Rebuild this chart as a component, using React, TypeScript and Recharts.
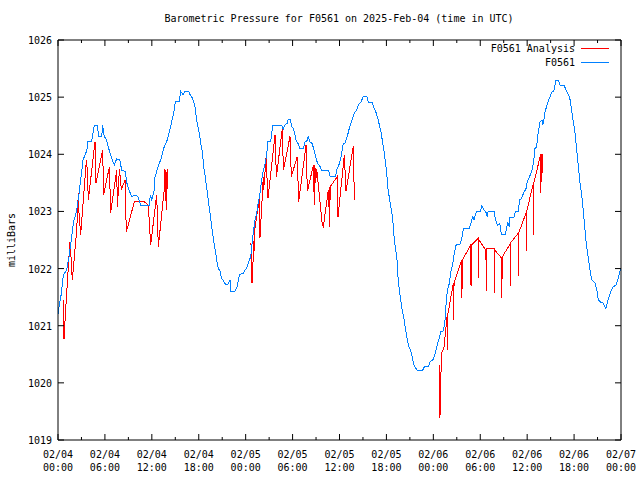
import React from 'react';
import { LineChart, Line, XAxis, YAxis } from 'recharts';

// hours since 02/04 00:00 UTC, pressure in mb
const pressureHours = [
  0, 0.15, 0.4, 0.68, 1.1, 1.4, 1.75, 1.96, 2.4, 2.7,
  2.94, 3.2, 3.7, 3.8, 4.3, 4.65, 5.07, 5.15, 5.6, 5.7,
  5.9, 6.2, 6.65, 6.95, 7.2, 7.5, 7.9, 8.15, 8.6, 8.8,
  9.1, 9.4, 9.85, 10.2, 10.5, 10.6, 11.7, 11.8, 12.0, 12.3,
  12.4, 12.8, 13.2, 13.5, 13.9, 14.2, 14.5, 14.9, 15.0, 15.5,
  15.7, 16.0, 16.2, 16.7, 16.9, 17.2, 17.5, 17.65, 17.8, 18.07,
  18.25, 18.5, 18.6, 18.8, 19.0, 19.22, 19.44, 19.66, 19.9, 20.1,
  20.3, 20.5, 20.7, 20.9, 21.1, 21.35, 21.6, 21.8, 22.0, 22.1,
  22.6, 22.9, 23.2, 23.7, 23.9, 24.1, 24.4, 24.65, 24.8, 25.0,
  25.2, 25.4, 25.6, 25.8, 26.05, 26.26, 26.5, 26.7, 26.8, 27.2,
  27.33, 27.5, 28.6, 28.8, 29.0, 29.3, 29.45, 29.7, 29.9, 30.1,
  30.3, 30.5, 30.7, 30.95, 31.4, 31.6, 31.8, 32.0, 32.2, 32.5,
  32.8, 33.0, 33.2, 33.5, 33.7, 34.6, 34.8, 35.5, 35.7, 36.0,
  36.2, 36.4, 36.5, 36.7, 36.9, 37.1, 37.3, 37.6, 37.9, 38.2,
  38.4, 38.75, 39.05, 39.5, 39.7, 40.2, 40.45, 40.7, 40.9, 41.05,
  41.3, 41.5, 41.7, 41.9, 42.05, 42.2, 42.45, 42.7, 42.9, 43.0,
  43.2, 43.4, 43.5, 43.7, 43.95, 44.2, 44.4, 44.6, 44.8, 45.0,
  45.2, 45.45, 45.65, 46.0, 46.6, 46.85, 47.4, 47.6, 48.0, 48.2,
  48.5, 48.8, 48.95, 49.3, 49.5, 49.6, 49.8, 50.05, 50.2, 50.5,
  50.6, 50.9, 51.4, 51.6, 51.85, 52.6, 52.8, 53.05, 53.2, 53.5,
  54.0, 54.2, 54.4, 54.7, 54.9, 55.0, 55.8, 55.9, 56.2, 56.5,
  56.7, 57.2, 57.4, 57.5, 57.7, 57.8, 58.3, 58.5, 58.9, 59.0,
  59.3, 59.5, 59.85, 60.0, 60.4, 60.6, 60.8, 61.0, 61.2, 61.4,
  61.65, 61.9, 62.0, 62.1, 62.3, 62.6, 62.9, 63.2, 63.4, 63.7,
  64.0, 64.2, 64.7, 65.0, 65.3, 65.5, 65.7, 65.9, 66.1, 66.3,
  66.55, 66.76, 67.0, 67.2, 67.4, 67.6, 67.8, 68.05, 68.26, 68.7,
  68.9, 69.1, 69.5, 69.7, 70.05, 70.4, 70.7, 71.0, 71.35, 71.65,
  71.9, 72.0,
];
const pressureMb = [
  1021.2, 1021.35, 1021.54, 1021.89, 1021.97, 1022.2, 1022.55, 1022.8, 1023.02, 1023.32,
  1023.6, 1023.9, 1024.07, 1024.22, 1024.22, 1024.51, 1024.51, 1024.32, 1024.32, 1024.51,
  1024.32, 1024.25, 1024.02, 1023.9, 1023.81, 1023.92, 1023.9, 1023.72, 1023.7, 1023.5,
  1023.37, 1023.26, 1023.29, 1023.26, 1023.15, 1023.11, 1023.11, 1023.29, 1023.2, 1023.37,
  1023.6, 1023.78, 1023.93, 1024.1, 1024.22, 1024.37, 1024.54, 1024.8, 1024.92, 1024.92,
  1025.1, 1025.04, 1025.1, 1025.1, 1025.04, 1024.98, 1024.86, 1024.69, 1024.54, 1024.37,
  1024.19, 1024.02, 1023.81, 1023.64, 1023.43, 1023.2, 1022.97, 1022.73, 1022.5, 1022.33,
  1022.15, 1022.0, 1021.97, 1021.83, 1021.8, 1021.74, 1021.71, 1021.74, 1021.8, 1021.6,
  1021.6, 1021.68, 1021.89, 1021.92, 1021.97, 1022.0, 1022.12, 1022.21, 1022.41, 1022.65,
  1022.85, 1022.97, 1023.14, 1023.29, 1023.55, 1023.72, 1023.84, 1023.99, 1024.22, 1024.22,
  1024.37, 1024.51, 1024.51, 1024.43, 1024.51, 1024.54, 1024.61, 1024.61, 1024.48, 1024.45,
  1024.34, 1024.22, 1024.19, 1024.1, 1024.1, 1024.22, 1024.22, 1024.31, 1024.22, 1024.19,
  1024.05, 1023.93, 1023.84, 1023.79, 1023.72, 1023.72, 1023.62, 1023.62, 1023.75, 1023.84,
  1023.96, 1024.13, 1024.19, 1024.19, 1024.28, 1024.37, 1024.48, 1024.6, 1024.72, 1024.78,
  1024.86, 1024.92, 1025.01, 1025.01, 1024.9, 1024.9, 1024.8, 1024.72, 1024.63, 1024.54,
  1024.4, 1024.22, 1024.05, 1023.84, 1023.64, 1023.4, 1023.17, 1022.97, 1022.73, 1022.5,
  1022.33, 1022.09, 1021.8, 1021.57, 1021.33, 1021.16, 1020.98, 1020.81, 1020.66, 1020.6,
  1020.52, 1020.34, 1020.28, 1020.21, 1020.21, 1020.28, 1020.29, 1020.37, 1020.41, 1020.5,
  1020.66, 1020.81, 1020.9, 1020.91, 1021.1, 1021.33, 1021.63, 1021.74, 1021.92, 1022.09,
  1022.21, 1022.41, 1022.43, 1022.5, 1022.7, 1022.7, 1022.79, 1022.91, 1022.85, 1023.0,
  1023.0, 1023.1, 1023.04, 1023.0, 1022.9, 1023.0, 1023.0, 1022.88, 1022.76, 1022.79,
  1022.6, 1022.6, 1022.73, 1022.81, 1022.73, 1022.9, 1022.9, 1023.0, 1023.0, 1023.2,
  1023.23, 1023.31, 1023.4, 1023.52, 1023.64, 1023.72, 1023.84, 1024.1, 1024.13, 1024.37,
  1024.57, 1024.6, 1024.51, 1024.57, 1024.75, 1024.89, 1025.0, 1025.1, 1025.1, 1025.3,
  1025.3, 1025.21, 1025.21, 1025.12, 1025.04, 1024.95, 1024.75, 1024.57, 1024.4, 1024.13,
  1023.78, 1023.49, 1023.26, 1022.97, 1022.67, 1022.38, 1022.21, 1021.97, 1021.8, 1021.74,
  1021.63, 1021.45, 1021.4, 1021.4, 1021.3, 1021.48, 1021.6, 1021.68, 1021.71, 1021.83,
  1021.97, 1022.0,
];

// analysis runs; null marks the gaps between the three runs
const analysisHours = [
  0.68, 0.77, 0.9, 1.24, 1.53, 1.66, 1.83, 2.39, 2.6, 2.69,
  2.9, 3.6, 3.67, 3.79, 3.88, 4.73, 4.86, 5.71, 5.84, 6.57,
  6.74, 7.5, 7.6, 7.85, 8.1, 8.57, 8.74, 9.76, 11.04, 11.55,
  11.7, 11.85, 12.62, 12.83, 13.6, 13.68, 13.85, 13.95, 14.0,
  19,
  24.68, 24.81, 25.07, 25.1, 25.2, 25.66, 25.75, 25.83, 26.26, 26.3,
  26.6, 26.86, 27.75, 27.93, 28.69, 28.82, 29.67, 29.84, 30.6, 30.78,
  31.72, 31.89, 32.66, 32.78, 32.85, 32.95, 33.08, 33.81, 33.93, 34.57,
  34.66, 34.72, 34.76, 34.8, 35.72, 35.81, 36.62, 36.83, 37.77, 37.9,
  43,
  48.8, 48.85, 48.9, 49.07, 49.37, 49.8, 49.82, 49.85, 50.56, 50.6,
  50.65, 51.63, 51.66, 51.7, 52.78, 52.82, 52.86, 53.76, 53.8, 53.84,
  54.73, 54.76, 54.8, 55.76, 55.79, 55.82, 56.74, 56.77, 56.8, 57.81,
  57.84, 57.88, 58.87, 58.9, 58.93, 59.85, 59.88, 59.92, 60.79, 60.82,
  60.86, 61.73, 61.76, 61.8, 61.94, 61.96,
];
const analysisMb = [
  1021.45, 1020.76, 1021.1, 1021.86, 1022.47, 1022.21, 1021.8, 1022.67, 1023.32, 1022.97,
  1022.59, 1023.84, 1023.9, 1023.55, 1023.2, 1024.22, 1023.49, 1024.07, 1023.29, 1023.78,
  1022.98, 1023.72, 1023.08, 1023.75, 1023.38, 1023.55, 1022.64, 1023.17, 1023.17, 1023.11,
  1022.76, 1022.41, 1023.29, 1022.38, 1023.4, 1023.75, 1023.02, 1023.75, 1023.4,
  null,
  1022.44, 1021.74, 1022.5, 1022.3, 1022.73, 1023.14, 1023.29, 1022.53, 1023.61, 1023.37,
  1023.93, 1023.23, 1024.34, 1023.61, 1024.45, 1023.72, 1024.31, 1023.61, 1023.96, 1023.17,
  1024.16, 1023.35, 1023.81, 1023.11, 1023.81, 1023.49, 1023.75, 1022.76, 1022.73, 1023.37,
  1023.08, 1023.43, 1022.73, 1023.43, 1023.61, 1022.91, 1023.99, 1023.35, 1024.15, 1023.2,
  null,
  1020.31, 1019.38, 1019.87, 1020.52, 1020.63, 1021.22, 1020.57, 1021.2, 1021.74, 1021.1,
  1021.75, 1022.15, 1021.48, 1022.15, 1022.41, 1021.69, 1022.41, 1022.53, 1021.83, 1022.5,
  1022.32, 1021.6, 1022.35, 1022.35, 1021.57, 1022.33, 1022.18, 1021.48, 1022.2, 1022.43,
  1021.69, 1022.45, 1022.62, 1021.87, 1022.63, 1022.97, 1022.3, 1022.99, 1023.49, 1022.59,
  1023.5, 1024.0, 1023.32, 1024.0, 1023.67, 1024.0,
];

const hourTicks = [0, 3, 6, 9, 12, 15, 18, 21, 24, 27, 30, 33, 36, 39, 42, 45, 48, 51, 54, 57, 60, 63, 66, 69, 72];
const mbTicks = [1019, 1020, 1021, 1022, 1023, 1024, 1025, 1026];

const pressureData = pressureHours.map((t, i) => ({ t, v: pressureMb[i] }));
const analysisData = analysisHours.map((t, i) => ({ t, v: analysisMb[i] }));

const FONT = '"DejaVu Sans Mono", "Liberation Mono", monospace';
const RED = '#ff0000';
const BLUE = '#0080ff';

const pad = (n: number) => String(n).padStart(2, '0');

const BottomTick = (props: any) => {
    const { x, y, payload } = props;
    const h = payload.value as number;
    const major = h % 6 === 0;
    return (
        <g>
            <line x1={x} y1={y} x2={x} y2={y - (major ? 6 : 3)} stroke="#000" />
            {major && (
                <text x={x} y={y + 18} textAnchor="middle" fontFamily={FONT} fontSize={10} fill="#000">
                    <tspan x={x}>{`02/${pad(4 + Math.floor(h / 24))}`}</tspan>
                    <tspan x={x} dy={13}>{`${pad(h % 24)}:00`}</tspan>
                </text>
            )}
        </g>
    );
};

const TopTick = (props: any) => {
    const { x, y, payload } = props;
    const major = (payload.value as number) % 6 === 0;
    return <line x1={x} y1={y} x2={x} y2={y + (major ? 6 : 3)} stroke="#000" />;
};

const LeftTick = (props: any) => {
    const { x, y, payload } = props;
    return (
        <g>
            <line x1={x} y1={y} x2={x + 6} y2={y} stroke="#000" />
            <text x={x - 6} y={y + 4} textAnchor="end" fontFamily={FONT} fontSize={10} fill="#000">
                {payload.value}
            </text>
        </g>
    );
};

const RightTick = (props: any) => {
    const { x, y } = props;
    return <line x1={x} y1={y} x2={x - 6} y2={y} stroke="#000" />;
};

const textStyle: React.CSSProperties = {
    position: 'absolute',
    fontFamily: FONT,
    fontSize: 10,
    lineHeight: '12px',
    color: '#000',
    whiteSpace: 'nowrap',
};

const App: React.FC = () => {
    return (
        <div style={{ position: 'relative', width: 640, height: 480, background: '#fff' }}>
            <style>{'body{margin:0} .recharts-line-curve{shape-rendering:crispEdges}'}</style>
            <LineChart width={640} height={480} margin={{ top: 0, right: 0, bottom: 0, left: 0 }}>
                <XAxis
                    dataKey="t"
                    type="number"
                    domain={[0, 72]}
                    ticks={hourTicks}
                    interval={0}
                    allowDataOverflow
                    height={40}
                    tickSize={0}
                    tickMargin={0}
                    tick={<BottomTick />}
                    axisLine={{ stroke: '#000' }}
                />
                <XAxis
                    xAxisId="top"
                    orientation="top"
                    dataKey="t"
                    type="number"
                    domain={[0, 72]}
                    ticks={hourTicks}
                    interval={0}
                    allowDataOverflow
                    height={40}
                    tickSize={0}
                    tickMargin={0}
                    tick={<TopTick />}
                    axisLine={{ stroke: '#000' }}
                />
                <YAxis
                    type="number"
                    domain={[1019, 1026]}
                    ticks={mbTicks}
                    interval={0}
                    allowDataOverflow
                    width={58}
                    tickSize={0}
                    tickMargin={0}
                    tick={<LeftTick />}
                    axisLine={{ stroke: '#000' }}
                />
                <YAxis
                    yAxisId="right"
                    orientation="right"
                    type="number"
                    domain={[1019, 1026]}
                    ticks={mbTicks}
                    interval={0}
                    allowDataOverflow
                    width={19}
                    tickSize={0}
                    tickMargin={0}
                    tick={<RightTick />}
                    axisLine={{ stroke: '#000' }}
                />
                <Line
                    data={analysisData}
                    dataKey="v"
                    type="linear"
                    stroke={RED}
                    strokeWidth={1}
                    dot={false}
                    isAnimationActive={false}
                />
                <Line
                    data={pressureData}
                    dataKey="v"
                    type="linear"
                    stroke={BLUE}
                    strokeWidth={1}
                    dot={false}
                    isAnimationActive={false}
                />
            </LineChart>

            <div style={{ ...textStyle, left: 339, top: 13, transform: 'translateX(-50%)' }}>
                Barometric Pressure for F0561 on 2025-Feb-04 (time in UTC)
            </div>
            <div style={{ ...textStyle, left: 12, top: 240, transform: 'translate(-50%, -50%) rotate(-90deg)' }}>
                milliBars
            </div>

            <div style={{ ...textStyle, right: 65, top: 43, textAlign: 'right' }}>F0561 Analysis</div>
            <div style={{ position: 'absolute', left: 581, top: 48, width: 28, height: 1, background: RED }} />
            <div style={{ ...textStyle, right: 65, top: 57, textAlign: 'right' }}>F0561</div>
            <div style={{ position: 'absolute', left: 581, top: 62, width: 28, height: 1, background: BLUE }} />
        </div>
    );
};

export default App;
